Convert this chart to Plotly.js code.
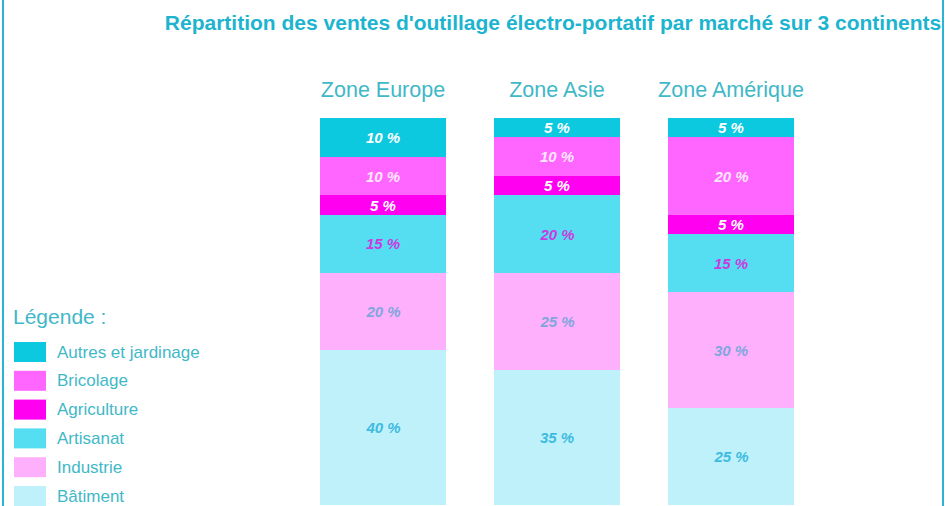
<!DOCTYPE html>
<html>
<head>
<meta charset="utf-8">
<script src="https://cdn.plot.ly/plotly-3.0.1.min.js"></script>
<style>
html,body{margin:0;padding:0;background:#fff;}
#chart{width:949px;height:506px;}
</style>
</head>
<body>
<div id="chart"></div>
<script>
// ---- data ----
var zones = ["Zone Europe", "Zone Asie", "Zone Amérique"];
var segments = ["Bâtiment", "Industrie", "Artisanat", "Agriculture", "Bricolage", "Autres et jardinage"];
var batiment = [40, 35, 25];
var industrie = [20, 25, 30];
var artisanat = [15, 20, 15];
var agriculture = [5, 5, 5];
var bricolage = [10, 10, 20];
var autres = [10, 5, 5];
var legendOrder = ["Autres et jardinage", "Bricolage", "Agriculture", "Artisanat", "Industrie", "Bâtiment"];

var values = {
  "Bâtiment": batiment,
  "Industrie": industrie,
  "Artisanat": artisanat,
  "Agriculture": agriculture,
  "Bricolage": bricolage,
  "Autres et jardinage": autres
};
var fillColors = {
  "Bâtiment": "#bff1fb",
  "Industrie": "#ffb0fc",
  "Artisanat": "#55def2",
  "Agriculture": "#ff00f0",
  "Bricolage": "#ff66ff",
  "Autres et jardinage": "#0dc9e0"
};
var labelColors = {
  "Bâtiment": "#3dbbe0",
  "Industrie": "#80a6dd",
  "Artisanat": "#c83ce0",
  "Agriculture": "#ffffff",
  "Bricolage": "#ffe6ff",
  "Autres et jardinage": "#ffffff"
};

// ---- layout geometry (pixels) ----
var W = 949, H = 506;
var L = 296, R = 131, T = 118, B = 1;
var PW = W - L - R, PH = H - T - B;
function xp(px) { return (px - L) / PW; }
function yp(py) { return (T + PH - py) / PH; }

var textCol = "#3fb8c8";
var FONT = "Liberation Sans, Arial, sans-serif";

var traces = segments.map(function (name) {
  return {
    type: "bar",
    name: name,
    x: zones,
    y: values[name],
    marker: { color: fillColors[name], line: { width: 0 } },
    texttemplate: "%{y} %",
    textposition: "inside",
    insidetextanchor: "middle",
    textangle: 0,
    constraintext: "none",
    textfont: { family: FONT, size: 15, color: labelColors[name], weight: "bold", style: "italic" },
    hoverinfo: "skip",
    showlegend: false
  };
});

var shapes = [];
var annotations = [];

// frame lines
shapes.push({ type: "line", xref: "paper", yref: "paper", x0: xp(3), x1: xp(3), y0: yp(0), y1: yp(506), line: { color: "#2ab5d5", width: 2 } });
shapes.push({ type: "line", xref: "paper", yref: "paper", x0: xp(943), x1: xp(943), y0: yp(0), y1: yp(506), line: { color: "#2ab5d5", width: 2 } });

// legend
annotations.push({
  xref: "paper", yref: "paper", x: xp(11), y: yp(316), xanchor: "left", yanchor: "middle",
  text: "Légende :", showarrow: false,
  font: { family: FONT, size: 21, color: textCol }
});
var rowY0 = 352, rowStep = 28.8;
legendOrder.forEach(function (name, i) {
  var cy = rowY0 + i * rowStep;
  shapes.push({
    type: "rect", xref: "paper", yref: "paper",
    x0: xp(14), x1: xp(46), y0: yp(cy - 10), y1: yp(cy + 10),
    fillcolor: fillColors[name], line: { width: 0 }
  });
  annotations.push({
    xref: "paper", yref: "paper", x: xp(55), y: yp(cy), xanchor: "left", yanchor: "middle",
    text: name, showarrow: false,
    font: { family: FONT, size: 17, color: textCol }
  });
});

var layout = {
  width: W, height: H,
  margin: { l: L, r: R, t: T, b: B, pad: 0 },
  paper_bgcolor: "#ffffff",
  plot_bgcolor: "#ffffff",
  barmode: "stack",
  bargap: 0.276,
  showlegend: false,
  title: {
    text: "Répartition des ventes d'outillage électro-portatif par marché sur 3 continents",
    font: { family: FONT, size: 21, color: "#1db4cf", weight: "bold" },
    x: 553 / W, xanchor: "center", y: 1 - 23 / H, yanchor: "middle",
    xref: "container", yref: "container"
  },
  xaxis: {
    type: "category",
    side: "top",
    showline: false, showgrid: false, zeroline: false,
    ticks: "",
    tickfont: { family: FONT, size: 21.5, color: textCol },
    ticklabelstandoff: 16,
    fixedrange: true
  },
  yaxis: {
    range: [0, 100],
    visible: false,
    fixedrange: true
  },
  shapes: shapes,
  annotations: annotations
};

Plotly.newPlot("chart", traces, layout, { staticPlot: true, displayModeBar: false });
</script>
</body>
</html>
